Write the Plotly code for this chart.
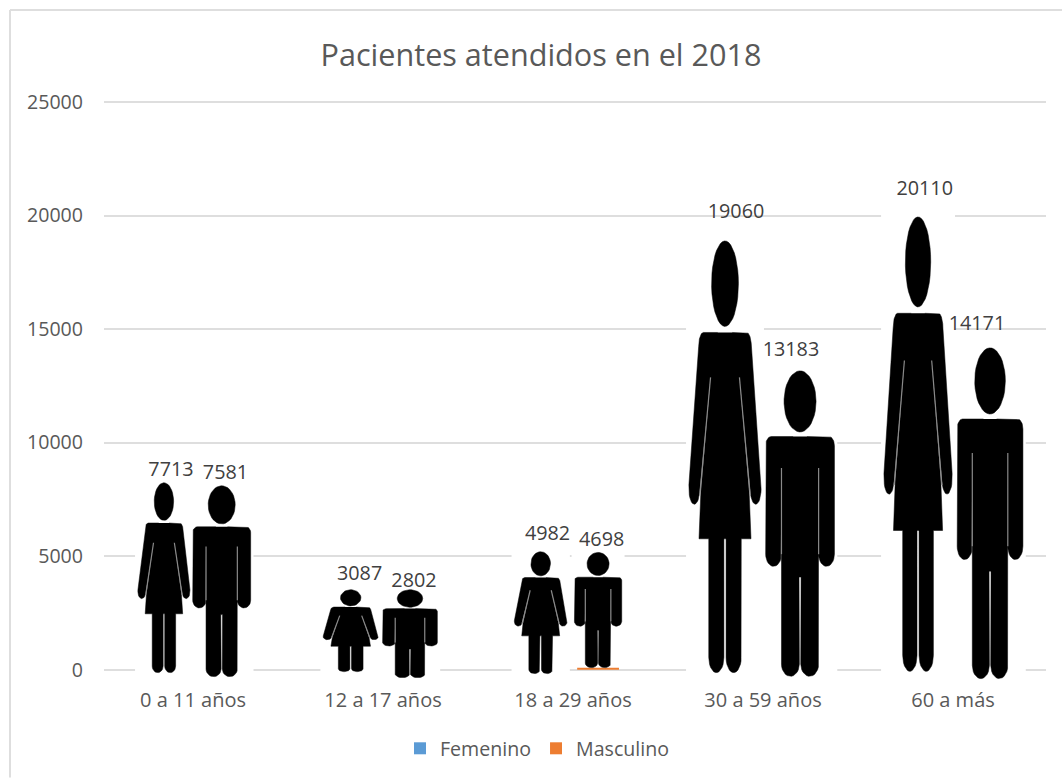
import numpy as np
import plotly.graph_objects as go

# ---- chart data ----
categories = ["0 a 11 años", "12 a 17 años", "18 a 29 años", "30 a 59 años", "60 a más"]
femenino = [7713, 3087, 4982, 19060, 20110]
masculino = [7581, 2802, 4698, 13183, 14171]
title_text = "Pacientes atendidos en el 2018"

# ---- pictogram extents (value-axis units / category-axis units) ----
fem_top = [8230, 3521, 5193, 18881, 19937]
fem_bottom = [-132, -88, -176, -132, -75]
fem_offset = [-0.153, -0.170, -0.170, -0.200, -0.184]
fem_width = [0.274, 0.289, 0.277, 0.380, 0.359]
mas_top = [8098, 3521, 5162, 13159, 14171]
mas_bottom = [-308, -352, 88, -295, -396]
mas_offset = [0.151, 0.142, 0.132, 0.195, 0.195]
mas_width = [0.305, 0.288, 0.249, 0.362, 0.346]

# ---- data-label placement ----
fem_label_dx = [-0.116, -0.123, -0.134, -0.142, -0.149]
fem_label_y = [8758, 4181, 5942, 20113, 21125]
mas_label_dx = [0.171, 0.163, 0.151, 0.147, 0.126]
mas_label_y = [8626, 3873, 5677, 14037, 15181]

DARK = "#000000"
SLIT = "#8a8a8a"
TEXT = "#595959"
GRID = "#dedede"
FONT = "Open Sans"


def ellipse(cx, cy, rx, ry, a0=0, a1=360, n=40):
    t = np.radians(np.linspace(a0, a1, n))
    return list(zip(cx + rx * np.cos(t), cy + ry * np.sin(t)))


# templates: u across the icon 0..1, v from head top 0 to foot 1; right half mirrored
def woman_template():
    right = [(0.60, 0.212), (0.80, 0.212)]
    right += ellipse(0.80, 0.245, 0.065, 0.033, -90, 0)
    right += [(1.0, 0.565)]
    right += ellipse(0.925, 0.575, 0.075, 0.035, 0, 170, 16)
    right += [(0.70, 0.316), (0.835, 0.585), (0.86, 0.69), (0.725, 0.69), (0.725, 0.965)]
    right += ellipse(0.62, 0.965, 0.105, 0.035, 0, 180, 14)
    right += [(0.515, 0.69)]
    left = [(1 - u, v) for u, v in reversed(right)]
    body = right + left
    head = ellipse(0.5, 0.099, 0.186, 0.099)
    slits = [[(0.70, 0.316), (0.85, 0.59)], [(0.30, 0.316), (0.15, 0.59)]]
    return [head, body], slits


def man_template():
    right = [(0.60, 0.215), (0.92, 0.215)]
    right += ellipse(0.92, 0.245, 0.08, 0.03, -90, 0, 14)
    right += [(1.0, 0.60)]
    right += ellipse(0.885, 0.60, 0.115, 0.04, 0, 180, 16)
    right += [(0.77, 0.318), (0.77, 0.96)]
    right += ellipse(0.64, 0.96, 0.13, 0.04, 0, 180, 14)
    right += [(0.515, 0.675)]
    left = [(1 - u, v) for u, v in reversed(right)]
    body = right + left
    head = ellipse(0.5, 0.1, 0.233, 0.1)
    slits = [[(0.77, 0.318), (0.77, 0.60)], [(0.23, 0.318), (0.23, 0.60)]]
    return [head, body], slits


def place(template, cx, width, top, bottom):
    polys, slits = template
    fx, fy, sx, sy = [], [], [], []
    for p in polys:
        for u, v in p:
            fx.append(cx + (u - 0.5) * width)
            fy.append(top + v * (bottom - top))
        fx.append(None)
        fy.append(None)
    for p in slits:
        for u, v in p:
            sx.append(cx + (u - 0.5) * width)
            sy.append(top + v * (bottom - top))
        sx.append(None)
        sy.append(None)
    return fx, fy, sx, sy


positions = list(range(len(categories)))
fem_x = [i + o for i, o in zip(positions, fem_offset)]
mas_x = [i + o for i, o in zip(positions, mas_offset)]

fig = go.Figure()

# the real bars (hidden by the pictures laid over them, as in the source)
fig.add_bar(x=fem_x, y=femenino, width=0.22, name="Femenino", marker_color="#5b9bd5", marker_line_width=0)
fig.add_bar(x=mas_x, y=masculino, width=0.22, name="Masculino", marker_color="#ed7d31", marker_line_width=0)

# white picture backgrounds
PAD_X, PAD_Y = 0.03, 60
for xs, ws, tops, bottoms, vals in [
    (fem_x, fem_width, fem_top, fem_bottom, femenino),
    (mas_x, mas_width, mas_top, mas_bottom, masculino),
]:
    base = [b - PAD_Y if b < 0 else b for b in bottoms]
    tip = [max(t, v) + PAD_Y for t, v in zip(tops, vals)]
    fig.add_bar(
        x=xs,
        y=[t - b for t, b in zip(tip, base)],
        base=base,
        width=[w + PAD_X for w in ws],
        marker_color="#ffffff",
        marker_line_width=0,
        showlegend=False,
        hoverinfo="skip",
    )

# pictograms
fx, fy, sx, sy = [], [], [], []
for tmpl, xs, ws, tops, bottoms in [
    (woman_template(), fem_x, fem_width, fem_top, fem_bottom),
    (man_template(), mas_x, mas_width, mas_top, mas_bottom),
]:
    for c, w, t, b in zip(xs, ws, tops, bottoms):
        a, e, g, h = place(tmpl, c, w, t, b)
        fx += a
        fy += e
        sx += g
        sy += h

fig.add_scatter(x=fx, y=fy, mode="lines", fill="toself", fillcolor=DARK,
                line=dict(color=DARK, width=0.5), showlegend=False, hoverinfo="skip")
fig.add_scatter(x=sx, y=sy, mode="lines", line=dict(color=SLIT, width=1.2),
                showlegend=False, hoverinfo="skip")

# data labels
fig.add_scatter(
    x=[i + d for i, d in zip(positions, fem_label_dx)] + [i + d for i, d in zip(positions, mas_label_dx)],
    y=fem_label_y + mas_label_y,
    text=[str(v) for v in femenino + masculino],
    mode="text",
    textposition="middle center",
    textfont=dict(family=FONT, size=19.8, color="#404040"),
    showlegend=False,
    hoverinfo="skip",
    cliponaxis=False,
)

PLOT_L, PLOT_R, PLOT_T, PLOT_B = 104, 1046, 100, 681.4
X_PER = 190.0
Y_TOP = 25000 + 2 * 25000 / 568


def paper_x(px):
    return (px - PLOT_L) / (PLOT_R - PLOT_L)


def paper_y(py):
    return (PLOT_B - py) / (PLOT_B - PLOT_T)


# chart-area border: only its top and left edges are inside the picture
frame = dict(type="line", xref="paper", yref="paper", line=dict(color=GRID, width=2), layer="below")
fig.add_shape(x0=paper_x(10), x1=paper_x(1062), y0=paper_y(10), y1=paper_y(10), **frame)
fig.add_shape(x0=paper_x(10), x1=paper_x(10), y0=paper_y(778), y1=paper_y(10), **frame)

fig.update_layout(
    width=1062,
    height=778,
    autosize=False,
    barmode="overlay",
    paper_bgcolor="#ffffff",
    plot_bgcolor="#ffffff",
    margin=dict(l=PLOT_L, r=1062 - PLOT_R, t=PLOT_T, b=778 - PLOT_B, pad=0, autoexpand=False),
    font=dict(family=FONT, size=19.6, color=TEXT),
    title=dict(text=title_text, x=541 / 1062, xref="container", xanchor="center",
               y=1 - 55 / 778, yref="container", yanchor="middle",
               font=dict(family=FONT, size=30.6, color=TEXT)),
    xaxis=dict(range=[(PLOT_L - 193) / X_PER, (PLOT_R - 193) / X_PER],
               tickvals=positions, ticktext=categories, showgrid=False, zeroline=False,
               showline=False, ticks="", ticklabelstandoff=5, fixedrange=True,
               tickfont=dict(family=FONT, size=20, color=TEXT)),
    yaxis=dict(range=[-500, Y_TOP], tickvals=[0, 5000, 10000, 15000, 20000, 25000],
               tickformat="d", showgrid=True, gridcolor=GRID, gridwidth=1.5, zeroline=False,
               showline=False, ticks="", ticklabelstandoff=20, fixedrange=True),
    legend=dict(orientation="h", x=paper_x(400), xanchor="left", y=paper_y(749), yanchor="middle",
                font=dict(family=FONT, size=19.6, color=TEXT), bgcolor="rgba(0,0,0,0)",
                itemclick=False, itemdoubleclick=False),
    showlegend=True,
)

fig.write_html("out.html", config={"displayModeBar": False},
               post_script="document.body.style.margin='0';document.body.style.overflow='hidden';")
